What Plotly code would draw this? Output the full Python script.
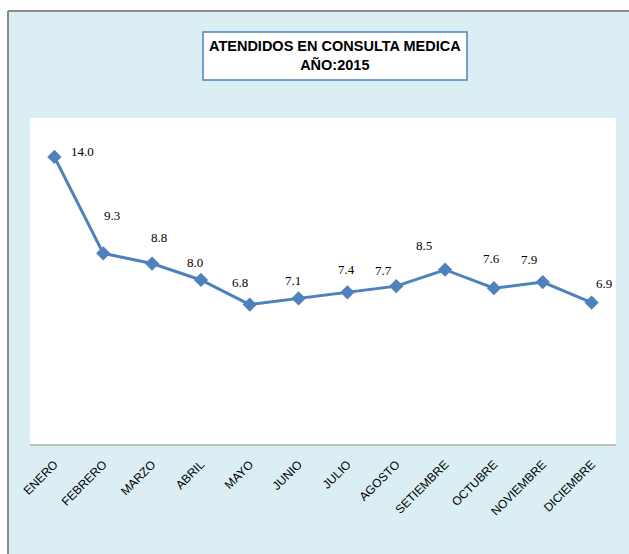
import plotly.graph_objects as go

# Monthly values
meses = ["ENERO", "FEBRERO", "MARZO", "ABRIL", "MAYO", "JUNIO", "JULIO",
         "AGOSTO", "SETIEMBRE", "OCTUBRE", "NOVIEMBRE", "DICIEMBRE"]
atendidos = [14.0, 9.3, 8.8, 8.0, 6.8, 7.1, 7.4, 7.7, 8.5, 7.6, 7.9, 6.9]

# label offsets in px (dx, dy) relative to each point
label_offsets = [(28, 5), (9, 38), (7, 26), (-6, 17), (-10, 22), (-6, 18),
                 (-1, 23), (-13, 16), (-21, 24), (-2, 30), (-14, 23), (12, 19)]

BLUE = "#4F81BD"
FRAME = "#DBEEF3"
W, H = 629, 554
L, R, T, B = 30, 13, 118, 110
pw, ph = W - L - R, H - T - B


def px_x(p):
    return (p - L) / pw


def px_y(p):
    return (H - B - p) / ph


fig = go.Figure()

fig.add_trace(go.Scatter(
    x=meses, y=atendidos,
    mode="lines+markers",
    line=dict(color=BLUE, width=3),
    marker=dict(symbol="diamond", size=11, color=BLUE),
    hoverinfo="skip"
))

for m, v, (dx, dy) in zip(meses, atendidos, label_offsets):
    fig.add_annotation(x=m, y=v, text=f"{v:.1f}", showarrow=False,
                       xshift=dx, yshift=dy,
                       font=dict(family="Liberation Serif", size=13, color="black"))

# white strips outside the chart frame + gray frame border
fig.add_shape(type="rect", xref="paper", yref="paper",
              x0=px_x(-5), x1=px_x(640), y0=px_y(10), y1=px_y(-5),
              fillcolor="white", line_width=0)
fig.add_shape(type="rect", xref="paper", yref="paper",
              x0=px_x(-5), x1=px_x(7), y0=px_y(600), y1=px_y(-5),
              fillcolor="white", line_width=0)
fig.add_shape(type="line", xref="paper", yref="paper",
              x0=px_x(8), x1=px_x(640), y0=px_y(11), y1=px_y(11),
              line=dict(color="#8C8C8C", width=2))
fig.add_shape(type="line", xref="paper", yref="paper",
              x0=px_x(8), x1=px_x(8), y0=px_y(11), y1=px_y(600),
              line=dict(color="#8C8C8C", width=2))

# title box
fig.add_shape(type="rect", xref="paper", yref="paper",
              x0=px_x(203), x1=px_x(467), y0=px_y(80), y1=px_y(32),
              fillcolor="white", line=dict(color=BLUE, width=1.5))
fig.add_annotation(xref="paper", yref="paper", x=px_x(335), y=px_y(56),
                   xanchor="center", yanchor="middle",
                   text="<b>ATENDIDOS EN CONSULTA MEDICA<br>AÑO:2015</b>",
                   showarrow=False,
                   font=dict(family="Liberation Sans", size=14.5, color="black"))

fig.update_layout(
    width=W, height=H,
    margin=dict(l=L, r=R, t=T, b=B),
    paper_bgcolor=FRAME,
    plot_bgcolor="white",
    showlegend=False,
    xaxis=dict(range=[-0.5, 11.5], tickangle=-45, showgrid=False,
               showline=True, linecolor="#BFBFBF", linewidth=1.5,
               ticks="", ticklabelstandoff=7,
               tickfont=dict(family="Liberation Sans", size=12, color="black"),
               fixedrange=True),
    yaxis=dict(range=[0, 15.9], visible=False, fixedrange=True),
)

fig.write_html("out.html", config={"displayModeBar": False},
               post_script="document.body.style.margin='0';")
